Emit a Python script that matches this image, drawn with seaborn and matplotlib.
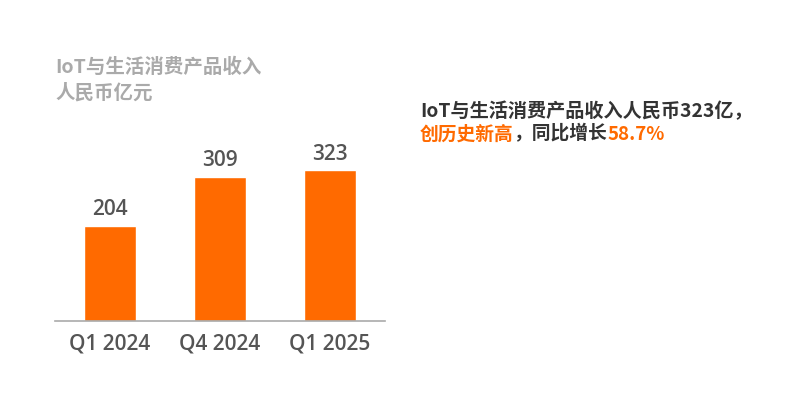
import matplotlib
matplotlib.use("Agg")
import matplotlib.pyplot as plt
import seaborn as sns
import pandas as pd

categories = ["Q1 2024", "Q4 2024", "Q1 2025"]
values = [204, 309, 323]
title_lines = ["IoT与生活消费产品收入", "人民币亿元"]
note_line1 = "IoT与生活消费产品收入人民币323亿，"
note_line2 = [("创历史新高", "#FF6A00"), ("，同比增长", "#333333"), ("58.7%", "#FF6A00")]

sns.set_theme(style="white")
plt.rcParams["font.family"] = ["Noto Sans CJK SC", "DejaVu Sans"]
LATIN = ["Open Sans", "Noto Sans CJK SC", "DejaVu Sans"]

ORANGE = "#FF6A00"
df = pd.DataFrame({"q": categories, "v": values})

fig = plt.figure(figsize=(7.9, 3.97), dpi=100)
ax = fig.add_axes([55/790, 1-321/397, 330/790, 222/397])
sns.barplot(data=df, x="q", y="v", color=ORANGE, saturation=1, width=0.48, ax=ax)
ax.set_xlim(-0.5, 2.5)
ax.set_ylim(0, 222/0.466)
for i, v in enumerate(values):
    ax.annotate(str(v), (i, v), xytext=(0, 4), textcoords="offset points",
                ha="center", va="bottom", fontsize=15, color="#555555",
                family=LATIN, fontweight="semibold")
ax.set_xlabel("")
ax.set_ylabel("")
ax.set_yticks([])
ax.tick_params(axis="x", length=0, labelsize=15, labelcolor="#555555", pad=9)
for lab in ax.get_xticklabels():
    lab.set_family(LATIN)
    lab.set_fontweight("semibold")
for s in ["top", "right", "left"]:
    ax.spines[s].set_visible(False)
ax.spines["bottom"].set_color("#aaaaaa")
ax.spines["bottom"].set_linewidth(1.2)

fig.text(55/790, 1-67/397, title_lines[0], fontsize=14, color="#aaaaaa",
         fontweight="bold", va="center", ha="left")
fig.text(55/790, 1-93/397, title_lines[1], fontsize=14, color="#aaaaaa",
         fontweight="bold", va="center", ha="left")

fig.text(420/790, 1-111/397, note_line1, fontsize=13.8, color="#333333",
         fontweight="bold", va="center", ha="left")

renderer = fig.canvas.get_renderer()
x = 420/790
for txt, col in note_line2:
    t = fig.text(x, 1-134/397, txt, fontsize=13.5, color=col, fontweight="bold",
                 va="center", ha="left")
    bb = t.get_window_extent(renderer=renderer)
    x = bb.x1 / fig.bbox.width

fig.savefig("out.png", dpi=100)
